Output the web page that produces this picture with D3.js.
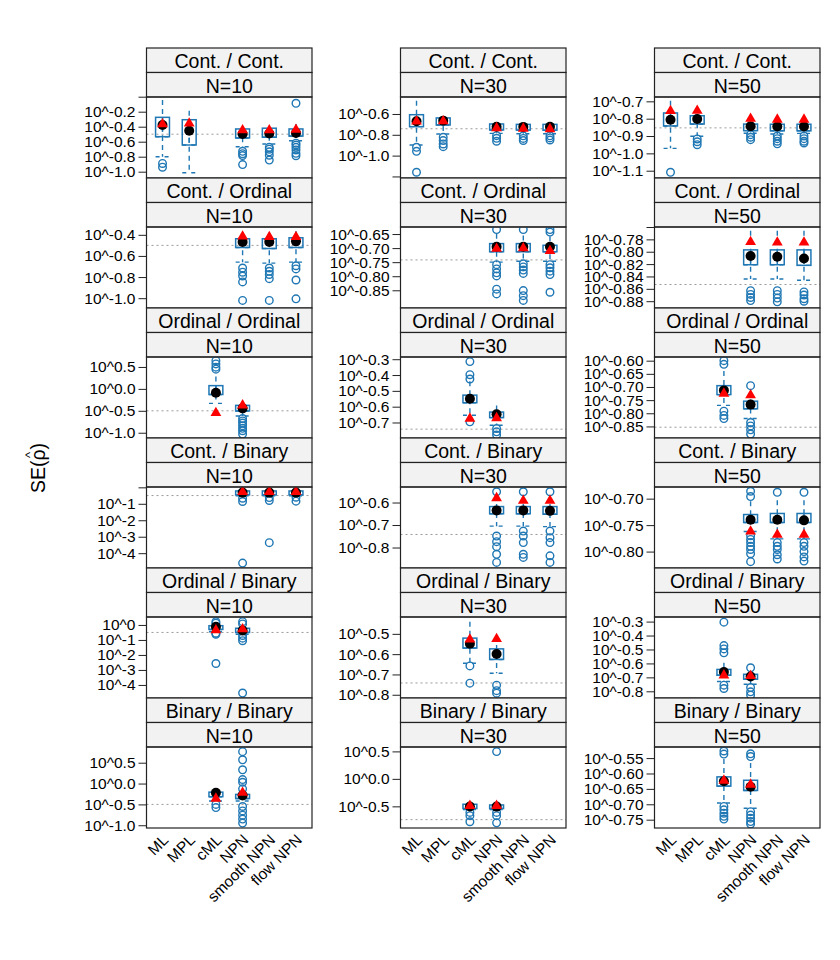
<!DOCTYPE html>
<html>
<head>
<meta charset="utf-8">
<script src="https://cdn.jsdelivr.net/npm/d3@7"></script>
<style>
  body { margin: 0; background: #fff; }
  text { font-family: "Liberation Sans", Arial, sans-serif; fill: #000; }
</style>
</head>
<body>
<div id="chart"></div>
<script>
// panel titles
var rowTitles = ["Cont. / Cont.", "Cont. / Ordinal", "Ordinal / Ordinal",
                 "Cont. / Binary", "Ordinal / Binary", "Binary / Binary"];
var sizeTitles = ["N=10", "N=30", "N=50"];
var methods = ["ML", "MPL", "cML", "NPN", "smooth NPN", "flow NPN"];

// reference (dotted) line per column, log10 scale
var refLines = [-0.5, -0.742, -0.853];

// y limits per panel (row*3+col), log10 scale
var yLimits = [
  [-1.084, -0.004], [-1.215, -0.437], [-1.142, -0.675],
  [-1.093, -0.326], [-0.913, -0.625], [-0.891, -0.760],
  [-1.12, 0.727],   [-0.798, -0.286], [-0.894, -0.586],
  [-4.9, 0.02],     [-0.891, -0.531], [-0.831, -0.678],
  [-4.87, 0.53],    [-0.816, -0.417], [-0.848, -0.267],
  [-1.066, 0.877],  [-0.894, 0.58],   [-0.777, -0.514]
];
var yTicks = [
  [-0.2, -0.4, -0.6, -0.8, -1.0], [-0.6, -0.8, -1.0], [-0.7, -0.8, -0.9, -1.0, -1.1],
  [-0.4, -0.6, -0.8, -1.0], [-0.65, -0.70, -0.75, -0.80, -0.85], [-0.78, -0.80, -0.82, -0.84, -0.86, -0.88],
  [0.5, 0.0, -0.5, -1.0], [-0.3, -0.4, -0.5, -0.6, -0.7], [-0.60, -0.65, -0.70, -0.75, -0.80, -0.85],
  [-1, -2, -3, -4], [-0.6, -0.7, -0.8], [-0.70, -0.75, -0.80],
  [0, -1, -2, -3, -4], [-0.5, -0.6, -0.7, -0.8], [-0.3, -0.4, -0.5, -0.6, -0.7, -0.8],
  [0.5, 0.0, -0.5, -1.0], [0.5, 0.0, -0.5], [-0.55, -0.60, -0.65, -0.70, -0.75]
];
var tickDigits = [1, 1, 1, 1, 2, 2, 1, 1, 2, 0, 1, 2, 0, 1, 1, 1, 1, 2];
// ticks drawn without a label (at the panel edge)
var bareTicks = [[0.0], [-1.2], [], [], [], [-0.76], [], [], [], [0], [], [], [], [], [], [], [], []];

// row, col, method, lower whisker, q1, median (dot), q3, upper whisker, mean (triangle)
var boxStats = [
  [0, 0, "ML", -0.80, -0.533, -0.377, -0.275, -0.044, -0.367],
  [0, 0, "MPL", -1.013, -0.644, -0.453, -0.307, -0.187, -0.355],
  [0, 0, "NPN", -0.667, -0.55, -0.497, -0.43, -0.42, -0.447],
  [0, 0, "smooth NPN", -0.63, -0.54, -0.49, -0.42, -0.40, -0.447],
  [0, 0, "flow NPN", -0.587, -0.525, -0.484, -0.43, -0.364, -0.44],
  [0, 1, "ML", -0.898, -0.722, -0.67, -0.607, -0.472, -0.672],
  [0, 1, "MPL", -0.792, -0.706, -0.664, -0.638, -0.63, -0.67],
  [0, 1, "NPN", -0.786, -0.754, -0.722, -0.696, -0.69, -0.735],
  [0, 1, "smooth NPN", -0.79, -0.755, -0.724, -0.70, -0.69, -0.74],
  [0, 1, "flow NPN", -0.79, -0.756, -0.722, -0.70, -0.69, -0.745],
  [0, 2, "ML", -0.971, -0.842, -0.806, -0.767, -0.696, -0.755],
  [0, 2, "MPL", -0.901, -0.831, -0.802, -0.783, -0.775, -0.754],
  [0, 2, "NPN", -0.884, -0.869, -0.844, -0.831, -0.828, -0.80],
  [0, 2, "smooth NPN", -0.888, -0.87, -0.845, -0.832, -0.828, -0.805],
  [0, 2, "flow NPN", -0.885, -0.87, -0.845, -0.832, -0.828, -0.805],
  [1, 0, "NPN", -0.659, -0.52, -0.468, -0.437, -0.375, -0.415],
  [1, 0, "smooth NPN", -0.668, -0.53, -0.468, -0.437, -0.375, -0.42],
  [1, 0, "flow NPN", -0.659, -0.52, -0.462, -0.428, -0.366, -0.42],
  [1, 1, "NPN", -0.75, -0.713, -0.695, -0.684, -0.649, -0.702],
  [1, 1, "smooth NPN", -0.747, -0.713, -0.695, -0.684, -0.655, -0.70],
  [1, 1, "flow NPN", -0.747, -0.713, -0.695, -0.69, -0.658, -0.71],
  [1, 2, "NPN", -0.844, -0.821, -0.807, -0.797, -0.766, -0.784],
  [1, 2, "smooth NPN", -0.844, -0.821, -0.808, -0.797, -0.766, -0.785],
  [1, 2, "flow NPN", -0.846, -0.822, -0.811, -0.797, -0.766, -0.785],
  [2, 0, "cML", -0.33, -0.128, -0.09, 0.074, 0.284, -0.549],
  [2, 0, "NPN", -0.617, -0.504, -0.444, -0.376, -0.338, -0.374],
  [2, 1, "cML", -0.654, -0.575, -0.55, -0.527, -0.44, -0.675],
  [2, 1, "NPN", -0.717, -0.669, -0.648, -0.634, -0.592, -0.672],
  [2, 2, "cML", -0.77, -0.729, -0.713, -0.695, -0.639, -0.725],
  [2, 2, "NPN", -0.82, -0.783, -0.767, -0.754, -0.713, -0.731],
  [3, 0, "NPN", -0.52, -0.46, -0.32, -0.22, -0.16, -0.28],
  [3, 0, "smooth NPN", -0.52, -0.46, -0.32, -0.22, -0.16, -0.28],
  [3, 0, "flow NPN", -0.52, -0.46, -0.32, -0.22, -0.16, -0.28],
  [3, 1, "NPN", -0.705, -0.65, -0.635, -0.618, -0.566, -0.58],
  [3, 1, "smooth NPN", -0.705, -0.65, -0.635, -0.618, -0.566, -0.592],
  [3, 1, "flow NPN", -0.707, -0.652, -0.637, -0.618, -0.566, -0.592],
  [3, 2, "NPN", -0.762, -0.745, -0.74, -0.73, -0.705, -0.762],
  [3, 2, "smooth NPN", -0.776, -0.745, -0.74, -0.728, -0.703, -0.768],
  [3, 2, "flow NPN", -0.776, -0.745, -0.741, -0.728, -0.703, -0.768],
  [4, 0, "cML", -0.45, -0.3, -0.12, -0.05, 0.05, -0.35],
  [4, 0, "NPN", -0.62, -0.5, -0.37, -0.22, -0.05, -0.28],
  [4, 1, "cML", -0.645, -0.57, -0.549, -0.521, -0.44, -0.527],
  [4, 1, "NPN", -0.694, -0.626, -0.599, -0.574, -0.51, -0.525],
  [4, 2, "cML", -0.73, -0.685, -0.662, -0.643, -0.595, -0.685],
  [4, 2, "NPN", -0.749, -0.713, -0.694, -0.678, -0.655, -0.69],
  [5, 0, "cML", -0.42, -0.315, -0.22, -0.206, -0.18, -0.36],
  [5, 0, "NPN", -0.42, -0.36, -0.284, -0.26, -0.206, -0.22],
  [5, 1, "cML", -0.56, -0.54, -0.503, -0.462, -0.45, -0.49],
  [5, 1, "NPN", -0.56, -0.54, -0.505, -0.475, -0.46, -0.49],
  [5, 2, "cML", -0.696, -0.641, -0.625, -0.611, -0.553, -0.623],
  [5, 2, "NPN", -0.713, -0.655, -0.643, -0.622, -0.566, -0.636]
];

// row, col, method, outlying values
var outliers = [
  [0, 0, "ML", [-0.89, -0.94]],
  [0, 0, "NPN", [-0.728, -0.76, -0.785, -0.905]],
  [0, 0, "smooth NPN", [-0.675, -0.70, -0.735, -0.78, -0.845]],
  [0, 0, "flow NPN", [-0.62, -0.644, -0.675, -0.71, -0.755, -0.787, -0.088]],
  [0, 1, "ML", [-0.92, -0.959, -1.16]],
  [0, 1, "MPL", [-0.824, -0.856, -0.888, -0.914]],
  [0, 1, "NPN", [-0.808, -0.834, -0.862]],
  [0, 1, "smooth NPN", [-0.81, -0.835, -0.855]],
  [0, 1, "flow NPN", [-0.81, -0.83, -0.85]],
  [0, 2, "ML", [-1.109]],
  [0, 2, "MPL", [-0.917, -0.933, -0.95]],
  [0, 2, "NPN", [-0.892, -0.907, -0.921]],
  [0, 2, "smooth NPN", [-0.9, -0.915, -0.93, -0.945]],
  [0, 2, "flow NPN", [-0.9, -0.915, -0.93, -0.94]],
  [1, 0, "NPN", [-0.714, -0.754, -0.79, -0.846, -1.021]],
  [1, 0, "smooth NPN", [-0.714, -0.745, -0.776, -0.815, -1.021]],
  [1, 0, "flow NPN", [-0.693, -0.723, -0.828, -1.006]],
  [1, 1, "NPN", [-0.634, -0.759, -0.774, -0.788, -0.799, -0.846, -0.863]],
  [1, 1, "smooth NPN", [-0.634, -0.756, -0.767, -0.778, -0.79, -0.851, -0.869, -0.886]],
  [1, 1, "flow NPN", [-0.634, -0.643, -0.759, -0.77, -0.782, -0.794, -0.857]],
  [1, 2, "NPN", [-0.863, -0.869, -0.874, -0.879]],
  [1, 2, "smooth NPN", [-0.863, -0.869, -0.875, -0.881]],
  [1, 2, "flow NPN", [-0.865, -0.87, -0.876, -0.88]],
  [2, 0, "cML", [0.644, 0.57, 0.495, 0.45]],
  [2, 0, "NPN", [-0.676, -0.73, -0.78, -0.84, -0.9, -0.955, -1.03]],
  [2, 1, "cML", [-0.315, -0.398, -0.425, -0.696]],
  [2, 1, "NPN", [-0.738, -0.759, -0.779]],
  [2, 2, "cML", [-0.60, -0.614, -0.792, -0.808, -0.82]],
  [2, 2, "NPN", [-0.695, -0.835, -0.848, -0.863, -0.879]],
  [3, 0, "NPN", [-0.66, -0.86, -4.6]],
  [3, 0, "smooth NPN", [-0.62, -0.8, -3.36]],
  [3, 0, "flow NPN", [-0.6, -0.84]],
  [3, 1, "NPN", [-0.552, -0.749, -0.774, -0.796, -0.83, -0.866]],
  [3, 1, "smooth NPN", [-0.552, -0.727, -0.749, -0.778, -0.83, -0.844]],
  [3, 1, "flow NPN", [-0.552, -0.727, -0.756, -0.778, -0.837, -0.866]],
  [3, 2, "NPN", [-0.686, -0.696, -0.77, -0.777, -0.783, -0.79, -0.796, -0.804, -0.819]],
  [3, 2, "smooth NPN", [-0.688, -0.783, -0.79, -0.796, -0.806, -0.814]],
  [3, 2, "flow NPN", [-0.688, -0.783, -0.79, -0.8, -0.81, -0.818]],
  [4, 0, "cML", [0.22, 0.12, -0.55, -0.62, -2.57]],
  [4, 0, "NPN", [0.22, 0.07, -0.7, -0.88, -1.05, -4.54]],
  [4, 1, "cML", [-0.658, -0.743]],
  [4, 1, "NPN", [-0.753, -0.78, -0.792]],
  [4, 2, "cML", [-0.304, -0.472, -0.496, -0.524, -0.756, -0.78]],
  [4, 2, "NPN", [-0.631, -0.773, -0.804, -0.827]],
  [5, 0, "cML", [-0.5, -0.576]],
  [5, 0, "NPN", [0.765, 0.57, 0.33, 0.095, 0.03, -0.126, -0.55, -0.656, -0.758, -0.853, -0.948]],
  [5, 1, "cML", [-0.61, -0.67, -0.78]],
  [5, 1, "NPN", [0.496, -0.61, -0.67, -0.80]],
  [5, 2, "cML", [-0.527, -0.537, -0.707, -0.718, -0.729, -0.739, -0.748]],
  [5, 2, "NPN", [-0.536, -0.545, -0.724, -0.735, -0.745, -0.756, -0.764]]
];

var blue = "#1f77b4";
var colLeft = [146.5, 400.5, 654.5];
var panelW = 165.5;
var top0 = 48, rowH = 130, stripH = 24.5, plotH = 81;

var svg = d3.select("#chart").append("svg")
    .attr("width", 840)
    .attr("height", 960)
    .style("background-color", "#fff");

var defs = svg.append("defs");

for (var r = 0; r < 6; r++) {
  for (var c = 0; c < 3; c++) {
    drawPanel(r, c);
  }
}

function drawPanel(r, c) {
  var i = r * 3 + c;
  var left = colLeft[c];
  var top = top0 + r * rowH;
  var plotTop = top + 2 * stripH;
  var g = svg.append("g");

  // strips
  [rowTitles[r], sizeTitles[c]].forEach(function (t, k) {
    g.append("rect")
      .attr("x", left).attr("y", top + k * stripH)
      .attr("width", panelW).attr("height", stripH)
      .attr("fill", "#f2f2f2").attr("stroke", "#222").attr("stroke-width", 1.2);
    g.append("text")
      .attr("x", left + panelW / 2).attr("y", top + k * stripH + stripH / 2 + 1)
      .attr("text-anchor", "middle").attr("dominant-baseline", "central")
      .style("font-size", "19.5px")
      .text(t);
  });

  var x = d3.scalePoint().domain(methods).range([left, left + panelW]).padding(0.6);
  var y = d3.scaleLinear().domain(yLimits[i]).range([plotTop + plotH, plotTop]);
  var bw = x.step() * 0.52;

  // y axis
  var dig = tickDigits[i];
  var ax = g.append("g").attr("transform", "translate(" + left + ",0)")
    .call(d3.axisLeft(y).tickValues(yTicks[i])
      .tickFormat(function (v) { return "10^" + v.toFixed(dig); })
      .tickSize(8).tickPadding(3));
  ax.select(".domain").remove();
  ax.selectAll("line").attr("stroke", "#222");
  ax.selectAll("text").style("font-size", "15.5px").attr("fill", "#000")
    .style("font-family", "'Liberation Sans', Arial, sans-serif");
  if (bareTicks[i].length) {
    var bx = g.append("g").attr("transform", "translate(" + left + ",0)")
      .call(d3.axisLeft(y).tickValues(bareTicks[i]).tickFormat("").tickSize(8));
    bx.select(".domain").remove();
    bx.selectAll("line").attr("stroke", "#222");
  }

  // clip
  var cid = "clip" + i;
  defs.append("clipPath").attr("id", cid).append("rect")
    .attr("x", left).attr("y", plotTop).attr("width", panelW).attr("height", plotH);
  var pg = g.append("g").attr("clip-path", "url(#" + cid + ")");

  // reference line
  var ref = refLines[c];
  if (ref >= yLimits[i][0] && ref <= yLimits[i][1]) {
    pg.append("line")
      .attr("x1", left).attr("x2", left + panelW)
      .attr("y1", y(ref)).attr("y2", y(ref))
      .attr("stroke", "#9a9a9a").attr("stroke-width", 1)
      .attr("stroke-dasharray", "2,3");
  }

  var stats = boxStats.filter(function (d) { return d[0] == r && d[1] == c; });
  var outs = outliers.filter(function (d) { return d[0] == r && d[1] == c; });

  stats.forEach(function (d) {
    var cx = x(d[2]);
    // whiskers
    [[d[6], d[4]], [d[7], d[3]]].forEach(function (w) {
      pg.append("line")
        .attr("x1", cx).attr("x2", cx).attr("y1", y(w[0])).attr("y2", y(w[1]))
        .attr("stroke", blue).attr("stroke-width", 1.4).attr("stroke-dasharray", "5,4");
      pg.append("line")
        .attr("x1", cx - bw / 2).attr("x2", cx + bw / 2).attr("y1", y(w[1])).attr("y2", y(w[1]))
        .attr("stroke", blue).attr("stroke-width", 1.4).attr("stroke-dasharray", "4,5");
    });
    pg.append("rect")
      .attr("x", cx - bw / 2).attr("y", y(d[6]))
      .attr("width", bw).attr("height", Math.max(0.5, y(d[4]) - y(d[6])))
      .attr("fill", "none").attr("stroke", blue).attr("stroke-width", 1.5);
  });

  outs.forEach(function (d) {
    d[3].forEach(function (v) {
      pg.append("circle")
        .attr("cx", x(d[2])).attr("cy", y(v)).attr("r", 3.8)
        .attr("fill", "none").attr("stroke", blue).attr("stroke-width", 1.4);
    });
  });

  stats.forEach(function (d) {
    var cx = x(d[2]);
    pg.append("circle")
      .attr("cx", cx).attr("cy", y(d[5])).attr("r", 5)
      .attr("fill", "#000");
    var ty = y(d[8]);
    pg.append("path")
      .attr("d", "M" + cx + "," + (ty - 6.2) + "L" + (cx + 5.4) + "," + (ty + 3.1) +
                 "L" + (cx - 5.4) + "," + (ty + 3.1) + "Z")
      .attr("fill", "#ff0000");
  });

  // panel border
  g.append("rect")
    .attr("x", left).attr("y", plotTop).attr("width", panelW).attr("height", plotH)
    .attr("fill", "none").attr("stroke", "#222").attr("stroke-width", 1.2);

  // x labels on the bottom row
  if (r == 5) {
    methods.forEach(function (m) {
      var px = x(m) + 3, py = plotTop + plotH + 9;
      g.append("text")
        .attr("transform", "translate(" + px + "," + py + ") rotate(-45)")
        .attr("text-anchor", "end").attr("dominant-baseline", "central")
        .style("font-size", "15.5px")
        .text(m);
    });
  }
}

// y axis title
var yl = svg.append("g").attr("transform", "translate(38,468) rotate(-90)");
var yt = yl.append("text")
  .attr("text-anchor", "middle").attr("dominant-baseline", "central")
  .style("font-size", "19.5px")
  .text("SE(\u03C1)");
var node = yt.node();
var p0 = node.getStartPositionOfChar(3).x;
var p1 = node.getEndPositionOfChar(3).x;
yl.append("text")
  .attr("x", (p0 + p1) / 2).attr("y", -9)
  .attr("text-anchor", "middle").attr("dominant-baseline", "central")
  .style("font-size", "13px")
  .text("^");
</script>
</body>
</html>
